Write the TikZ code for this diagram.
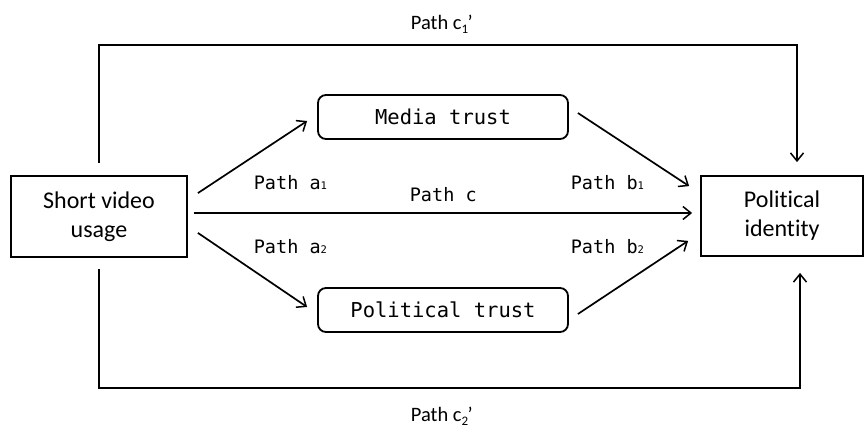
\documentclass[tikz,border=0pt]{standalone}
\usepackage{fontspec}
\setmainfont{Carlito}[Ligatures=NoCommon]
\newfontfamily\monofnt{DejaVu Sans Mono}
\usetikzlibrary{arrows.meta}
\newcommand{\lsub}[1]{{\fontsize{10.5}{10.5}\selectfont #1}}
\newcommand{\csub}[1]{\raisebox{-4pt}{\fontsize{13}{13}\selectfont #1}}
\begin{document}
\begin{tikzpicture}[x=1pt,y=-1pt,
  line width=1.7pt,
  arr/.style={-{Straight Barb[length=8pt,width=13pt,line width=1.5pt]}},
  varbox/.style={draw, line width=1.8pt, align=center, inner sep=0pt,
    font=\fontsize{24}{29}\selectfont},
  medbox/.style={draw, line width=1.8pt, rounded corners=8pt, inner sep=0pt,
    minimum width=250pt, minimum height=44pt,
    font=\monofnt\fontsize{20.5}{24}\selectfont},
  plabel/.style={anchor=base west, inner sep=0pt,
    font=\monofnt\fontsize{18.5}{22}\selectfont},
  clabel/.style={anchor=base west, inner sep=0pt, font=\fontsize{20.5}{24}\selectfont}]
\useasboundingbox (0,0) rectangle (864,427);

\node[varbox, minimum width=176pt, minimum height=81pt] (svu) at (99,216.5) {Short video\\usage};
\node[varbox, minimum width=162pt, minimum height=80pt] (pid) at (782,216) {Political\\identity};
\node[medbox] (mt) at (443,117) {Media trust};
\node[medbox] (pt) at (443,310) {Political trust};

% direct and mediated paths
\draw[arr] ([shift={(10,18)}]svu.north east) -- ([shift={(-10,4)}]mt.west);
\draw[arr] ([shift={(9,-4)}]mt.east) -- ([shift={(-11,11)}]pid.north west);
\draw[arr] ([shift={(6,-3.5)}]svu.east) -- ([shift={(-8,-3)}]pid.west);
\draw[arr] ([shift={(10,-25)}]svu.south east) -- ([shift={(-10,-3)}]pt.west);
\draw[arr] ([shift={(9,4)}]pt.east) -- ([shift={(-12,-16)}]pid.south west);

% outer paths
\draw[arr] ([shift={(0,-12)}]svu.north) -- ++(0,-118) -| ([shift={(15,-13)}]pid.north);
\draw[arr] ([shift={(0,11)}]svu.south) -- ++(0,119) -| ([shift={(18,16)}]pid.south);

% labels
\node[plabel] (la1) at (253,190) {Path a\lsub{1}};
\node[plabel] (lc) at (409,202) {Path c};
\node[plabel] (lb1) at (570,190) {Path b\lsub{1}};
\node[plabel] (la2) at (253,254) {Path a\lsub{2}};
\node[plabel] (lb2) at (570,254) {Path b\lsub{2}};
\node[clabel] (lc1) at (410,30) {Path c\csub{1}\kern-0.5pt’};
\node[clabel] (lc2) at (410,421) {Path c\csub{2}\kern-0.5pt’};
\end{tikzpicture}
\end{document}
